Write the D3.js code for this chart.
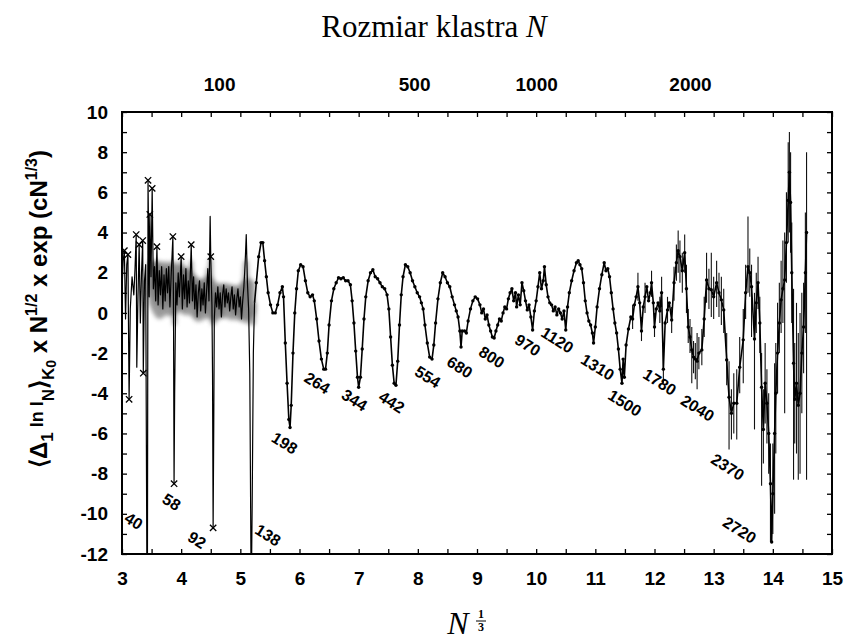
<!DOCTYPE html>
<html><head><meta charset="utf-8">
<script src="https://cdn.jsdelivr.net/npm/d3@7"></script>
<style>body{margin:0;background:#fff}svg{display:block}</style>
</head><body>
<svg id="chart" width="845" height="640"></svg>
<script>
// ---------------- DATA ----------------
// x = N^(1/3), y = <Δ1 lnI_N>_K0 × N^1/2 × exp(cN^1/3)
const smallClusters = [
[3.00,1.2],[3.02,2.6],[3.04,3.1],[3.06,-0.3],[3.08,2.4],[3.10,2.9],[3.12,-4.3],[3.14,0.2],[3.17,1.8],[3.20,0.9],
[3.22,2.2],[3.24,3.9],[3.25,-2.7],[3.27,0.8],[3.29,3.4],[3.31,-0.5],[3.33,2.0],[3.35,3.6],[3.36,-3.0],[3.38,1.6],
[3.40,2.4],[3.42,-12.5],[3.43,-12.5],[3.44,6.6],[3.46,0.8],[3.47,4.9],[3.49,1.8],[3.51,6.2],[3.53,1.2],[3.55,2.3],
[3.57,0.6],[3.59,3.3],[3.61,0.4],[3.63,2.1],[3.65,0.9],[3.67,2.3],[3.69,0.2],[3.71,1.9],[3.73,0.6],[3.75,2.2],
[3.77,1.0],[3.79,2.3],[3.81,0.3],[3.83,1.8],[3.86,3.8],[3.87,0.5],[3.88,-8.5],[3.89,-4.0],[3.91,1.5],[3.93,0.4],
[3.95,2.0],[3.97,0.8],[4.00,2.8],[4.02,0.2],[4.04,1.9],[4.06,0.7],[4.08,2.2],[4.10,0.3],[4.12,1.6],[4.14,0.5],
[4.17,3.4],[4.19,0.6],[4.21,1.8],[4.23,0.2],[4.25,1.4],[4.27,-0.2],[4.29,1.0],[4.31,1.6],[4.33,0.1],[4.35,1.2],
[4.37,0.4],[4.39,1.5],[4.41,0.0],[4.43,1.1],[4.45,2.2],[4.47,0.6],[4.49,4.8],[4.50,2.8],[4.52,0.4],[4.53,-3.0],
[4.54,-10.7],[4.55,-6.0],[4.56,-0.3],[4.58,1.0],[4.60,0.3],[4.62,1.3],[4.64,0.2],[4.66,1.0],[4.68,-0.2],[4.70,0.9],
[4.72,1.4],[4.74,0.3],[4.76,1.2],[4.78,0.5],[4.80,1.0],[4.82,0.1],[4.84,0.8],[4.86,1.3],[4.88,0.2],[4.90,0.9],
[4.92,-0.1],[4.94,0.7],[4.96,1.2],[4.98,0.3],[5.00,0.8],[5.02,-0.3],[5.04,0.6],[5.06,1.3],[5.08,2.4],[5.10,3.9],
[5.12,1.5],[5.14,0.2],[5.16,-3.0],[5.18,-12.5],[5.19,-12.5],[5.20,-9.6],[5.22,-2.0],[5.24,0.5]
];
const midClusters = [
[5.27,1.5],[5.31,2.8],[5.35,3.5],[5.38,3.5],[5.41,2.6],[5.44,1.8],[5.47,1.0],[5.51,0.4],[5.55,0.0],[5.59,0.0],
[5.63,0.4],[5.67,1.0],[5.71,1.3],[5.73,0.8],[5.76,-1.5],[5.79,-3.5],[5.82,-5.3],[5.84,-5.7],[5.86,-4.6],[5.89,-2.0],
[5.92,0.0],[5.95,1.2],[5.98,2.1],[6.02,2.4],[6.06,2.3],[6.10,1.6],[6.14,1.0],[6.18,0.8],[6.22,0.9],[6.25,0.6],
[6.29,-0.3],[6.33,-1.4],[6.37,-2.3],[6.41,-2.8],[6.44,-2.8],[6.47,-2.0],[6.50,-0.6],[6.54,0.6],[6.58,1.2],[6.62,1.5],
[6.66,1.75],[6.70,1.7],[6.74,1.75],[6.78,1.6],[6.82,1.6],[6.86,1.4],[6.89,0.6],[6.92,-0.5],[6.95,-1.9],[6.98,-3.2],
[7.00,-3.7],[7.03,-3.2],[7.06,-1.8],[7.09,-0.3],[7.12,0.8],[7.16,1.6],[7.20,2.0],[7.24,2.15],[7.28,1.8],[7.32,1.7],
[7.36,1.5],[7.40,1.3],[7.44,1.2],[7.48,0.9],[7.51,0.2],[7.54,-1.2],[7.57,-2.6],[7.60,-3.5],[7.63,-3.6],[7.66,-2.4],
[7.69,-0.6],[7.72,0.9],[7.75,1.8],[7.79,2.4],[7.83,2.3],[7.87,2.0],[7.91,1.6],[7.95,1.3],[7.99,1.0],[8.03,0.8],
[8.06,0.5],[8.09,0.2],[8.12,-0.6],[8.16,-1.5],[8.20,-2.2],[8.24,-2.3],[8.27,-1.6],[8.30,-0.5],[8.34,0.7],[8.38,1.5],
[8.42,2.0],[8.46,1.8],[8.50,1.5],[8.54,1.3],[8.58,0.8],[8.62,0.4],[8.65,0.1],[8.68,-0.2],[8.71,-0.9],[8.73,-1.7],
[8.75,-0.9],[8.79,-0.9],[8.82,-1.0],[8.85,-0.4],[8.89,0.2],[8.93,0.6],[8.97,0.8],[9.01,0.7],[9.05,0.4],[9.08,0.0],
[9.11,0.2],[9.14,-0.3],[9.17,-0.1],[9.20,-0.6],[9.23,-0.9],[9.26,-1.2],[9.29,-1.25],[9.32,-0.9],[9.35,-0.6],[9.38,-0.3],
[9.41,-0.4],[9.44,0.0],[9.47,0.3],[9.50,0.2],[9.53,0.7],[9.56,1.0],[9.59,1.2],[9.62,0.6],[9.65,1.0],[9.67,0.3],
[9.70,0.9],[9.73,0.4],[9.76,1.5],[9.79,1.1],[9.82,0.6],[9.85,0.15],[9.88,0.4],[9.91,-0.2],[9.94,-0.85],[9.97,0.1],
[10.00,0.6],[10.03,1.3],[10.06,2.0],[10.09,1.2],[10.12,1.6],[10.14,2.3],[10.17,1.4],[10.20,0.8],[10.23,0.5],[10.26,0.4],
[10.29,0.1],[10.32,0.3],[10.35,-0.1],[10.38,0.2],[10.41,0.0],[10.44,-0.3],[10.47,0.1],[10.50,-0.85],[10.53,0.3],[10.56,1.0],
[10.60,1.6],[10.64,2.1],[10.68,2.5],[10.71,2.6],[10.74,2.4],[10.77,2.2],[10.80,1.5],[10.83,0.6],[10.86,0.0],[10.89,-0.4],
[10.92,-0.6],[10.95,-1.0],[10.97,-1.5],[11.00,-0.7],[11.03,0.3],[11.07,1.2],[11.11,1.9],[11.15,2.5],[11.18,2.1],[11.21,2.2],
[11.24,1.8],[11.27,1.0],[11.30,0.2],[11.33,-0.5],[11.36,-1.0],[11.39,-1.8],[11.42,-2.8],[11.45,-3.5],[11.47,-2.3],[11.49,-3.2],
[11.52,-1.6],[11.56,-0.8]
];
const largeClusters = [
[11.60,-0.2],[11.63,-0.3],[11.66,0.4],[11.69,0.8],[11.72,1.3],[11.75,0.5],[11.78,-0.9],[11.81,0.3],[11.84,0.8],[11.87,1.3],
[11.90,0.6],[11.93,1.0],[11.95,1.5],[11.98,0.5],[12.00,-0.7],[12.03,0.2],[12.06,0.5],[12.09,0.1],[12.12,1.0],[12.15,-2.8],
[12.18,-0.5],[12.22,0.15],[12.25,0.5],[12.29,-0.35],[12.33,1.5],[12.37,2.5],[12.40,3.1],[12.43,2.8],[12.47,2.1],[12.51,3.0],
[12.54,1.2],[12.57,-0.7],[12.60,-1.2],[12.63,-1.84],[12.66,-2.2],[12.69,-2.3],[12.72,-2.4],[12.75,-2.0],[12.80,-1.84],[12.84,-0.3],
[12.88,1.64],[12.92,1.2],[12.96,1.15],[13.00,0.8],[13.05,1.5],[13.09,1.0],[13.13,0.65],[13.17,0.15],[13.22,-2.34],[13.26,-4.2],
[13.30,-5.0],[13.34,-4.5],[13.39,-4.5],[13.44,-2.7],[13.50,-1.34],[13.54,1.0],[13.58,2.3],[13.61,2.0],[13.64,1.3],[13.69,-1.3],
[13.72,0.5],[13.75,1.5],[13.78,-0.5],[13.81,-3.7],[13.84,-5.8],[13.87,-3.5],[13.90,-4.5],[13.93,-6.0],[13.96,-8.5],[13.98,-11.4],
[14.00,-9.0],[14.03,-6.0],[14.05,-4.0],[14.08,-2.0],[14.11,-0.5],[14.14,0.65],[14.17,1.2],[14.20,1.64],[14.23,3.5],[14.26,5.6],
[14.28,7.0],[14.30,5.5],[14.32,2.0],[14.35,-2.5],[14.37,-4.3],[14.40,-3.5],[14.43,-4.6],[14.46,-4.0],[14.49,-2.0],[14.52,-0.7],
[14.55,2.0],[14.57,4.0]
];
// error bars: [x, low, high]
const errorBars = [
[11.63,-0.8,0.4],[11.72,0.6,2.0],[11.78,-1.4,-0.2],[11.84,0.0,1.5],[11.95,0.8,2.1],[12.00,-1.2,0.0],[12.09,-0.5,0.8],
[12.12,0.3,1.8],[12.15,-3.5,-1.5],[12.22,-0.5,0.8],[12.29,-1.0,0.3],[12.33,0.6,2.3],[12.37,1.6,3.4],[12.40,2.0,4.1],
[12.43,1.5,3.6],[12.47,1.0,3.0],[12.51,2.0,3.9],[12.54,0.0,2.4],[12.57,-1.5,0.2],[12.60,-2.0,-0.3],[12.63,-3.5,-0.7],
[12.66,-3.0,-1.4],[12.69,-3.3,-1.5],[12.72,-3.8,-1.0],[12.75,-2.8,-1.2],[12.80,-2.6,-0.8],[12.84,-1.2,0.8],[12.88,0.5,3.0],
[12.92,0.2,2.2],[12.96,-0.2,3.0],[13.00,-0.3,1.8],[13.05,0.3,2.6],[13.09,-0.2,2.0],[13.13,-0.6,1.8],[13.17,-1.0,1.2],
[13.22,-3.6,-1.0],[13.26,-6.8,-2.4],[13.30,-6.3,-3.8],[13.34,-6.0,-3.0],[13.39,-6.3,-2.8],[13.44,-4.0,-1.2],[13.50,-3.5,0.2],
[13.54,-0.3,2.4],[13.58,1.0,4.8],[13.61,0.8,3.2],[13.64,-1.2,2.4],[13.69,-5.8,1.0],[13.72,-1.0,2.0],[13.75,0.2,2.8],
[13.78,-2.0,0.8],[13.81,-8.6,-2.0],[13.84,-7.5,-3.8],[13.87,-5.5,-1.5],[13.90,-6.5,-2.8],[13.93,-8.0,-4.0],[13.96,-11.4,-6.5],
[14.00,-11.0,-6.5],[14.03,-10.0,-2.5],[14.05,-7.0,-1.5],[14.08,-4.0,0.5],[14.11,-2.0,1.5],[14.14,-1.0,2.6],[14.17,-0.5,3.6],
[14.20,-5.0,4.0],[14.23,1.5,6.0],[14.26,3.5,8.5],[14.28,4.0,9.0],[14.30,3.0,8.0],[14.32,-0.5,4.5],[14.35,-8.3,1.2],
[14.37,-6.5,-1.5],[14.40,-7.0,0.5],[14.43,-8.3,-1.0],[14.46,-8.0,0.0],[14.49,-5.0,1.0],[14.52,-3.0,1.5],[14.55,-1.0,5.0],
[14.57,-8.3,8.0]
];
// cross markers on the small-cluster data
const crossMarks = [
[3.04,3.1],[3.10,2.9],[3.12,-4.3],[3.24,3.9],[3.29,3.4],[3.35,3.6],[3.36,-3.0],[3.44,6.6],[3.47,4.9],[3.51,6.2],
[3.59,3.3],[3.86,3.8],[3.88,-8.5],[4.00,2.8],[4.17,3.4],[4.50,2.8],[4.54,-10.7]
];
// grey smeared band of the small clusters: [x, low, high]
const greyBand = [
[3.45,0.5,2.4],[3.55,-0.2,2.6],[3.65,-0.4,2.5],[3.75,0.0,2.6],[3.85,-0.3,2.4],[3.95,0.2,2.5],[4.05,-0.2,2.3],
[4.15,0.0,2.2],[4.25,-0.5,1.8],[4.35,-0.4,1.6],[4.45,-0.2,2.0],[4.55,-0.5,1.6],[4.65,-0.3,1.4],[4.75,-0.2,1.5],
[4.85,-0.4,1.4],[4.95,-0.3,1.3],[5.05,-0.5,1.6],[5.15,-0.5,1.8],[5.25,0.0,1.5]
];
// grey drops: [x, from, to]
const greyDrops = [[3.61,1.0,-0.7],[3.70,1.0,-1.45],[3.81,1.0,-0.85],[3.88,1.0,-4.5],[4.01,1.0,-1.0],[4.10,1.0,-2.34],[4.54,1.0,-2.8],[5.20,1.0,-0.7]];
// magic numbers and label anchors (data coords)
const magicNumbers = [40,58,92,138,198,264,344,442,554,680,800,970,1120,1310,1500,1780,2040,2370,2720];
const labelX = [3.20,3.84,4.27,5.47,5.75,6.30,6.93,7.56,8.17,8.71,9.25,9.86,10.36,11.04,11.50,12.09,12.73,13.24,13.44];
const labelY = [-10.35,-9.4,-11.3,-11.05,-6.47,-3.48,-4.33,-4.43,-3.18,-2.69,-2.19,-1.6,-1.34,-2.69,-4.48,-3.43,-4.73,-7.66,-10.8];
const topN = [100,500,1000,2000];
const xDomain = [3,15], yDomain = [-12,10];

// ---------------- DRAW ----------------
const svg = d3.select('#chart');
const x = d3.scaleLinear().domain(xDomain).range([122,832]);
const y = d3.scaleLinear().domain(yDomain).range([554,112]);
const SANS = "'Liberation Sans', Arial, Helvetica, sans-serif";
const SERIF = "'Liberation Serif', 'Times New Roman', serif";

const defs = svg.append('defs');
defs.append('clipPath').attr('id','plot').append('rect')
  .attr('x',x(3)).attr('y',y(10)).attr('width',x(15)-x(3)).attr('height',y(-12)-y(10));
defs.append('filter').attr('id','blur').attr('x','-20%').attr('y','-20%').attr('width','140%').attr('height','140%')
  .append('feGaussianBlur').attr('stdDeviation',2.2);
defs.append('filter').attr('id','blur2')
  .append('feGaussianBlur').attr('stdDeviation',0.8);

const plot = svg.append('g').attr('clip-path','url(#plot)');

// grey band
plot.append('path').datum(greyBand)
  .attr('d', d3.area().x(d=>x(d[0])).y0(d=>y(d[1])).y1(d=>y(d[2])).curve(d3.curveBasis))
  .attr('fill','#5a5a5a').attr('opacity',0.6).attr('filter','url(#blur)');
plot.append('path').datum(smallClusters.filter(d=>d[0]>3.45))
  .attr('d', d3.line().x(d=>x(d[0])).y(d=>y(Math.max(-0.5,Math.min(2.6,d[1])))))
  .attr('fill','none').attr('stroke','#555').attr('stroke-width',4).attr('opacity',0.5).attr('filter','url(#blur)');
plot.selectAll('line.gdrop').data(greyDrops).join('line').attr('class','gdrop')
  .attr('x1',d=>x(d[0])).attr('x2',d=>x(d[0])).attr('y1',d=>y(d[1])).attr('y2',d=>y(d[2]))
  .attr('stroke','#8a8a8a').attr('stroke-width',3).attr('filter','url(#blur2)');

// error bars
plot.selectAll('line.err').data(errorBars).join('line').attr('class','err')
  .attr('x1',d=>x(d[0])).attr('x2',d=>x(d[0])).attr('y1',d=>y(d[1])).attr('y2',d=>y(d[2]))
  .attr('stroke','#111').attr('stroke-width',1.1);

// main line
const line = d3.line().x(d=>x(d[0])).y(d=>y(d[1]));
plot.append('path').datum(smallClusters)
  .attr('d', line)
  .attr('fill','none').attr('stroke','#000').attr('stroke-width',1.2).attr('stroke-linejoin','round');
plot.append('path').datum([smallClusters[smallClusters.length-1]].concat(midClusters, largeClusters))
  .attr('d', line)
  .attr('fill','none').attr('stroke','#000').attr('stroke-width',1.6).attr('stroke-linejoin','round');

// dots
plot.selectAll('circle.pt').data(midClusters.concat(largeClusters)).join('circle').attr('class','pt')
  .attr('cx',d=>x(d[0])).attr('cy',d=>y(d[1])).attr('r',1.7).attr('fill','#000');

// crosses
plot.selectAll('path.cross').data(crossMarks).join('path').attr('class','cross')
  .attr('transform',d=>`translate(${x(d[0])},${y(d[1])})`)
  .attr('d', d3.symbol().type(d3.symbolTimes).size(28)())
  .attr('fill','none').attr('stroke','#000').attr('stroke-width',1.3);

// magic number labels
svg.selectAll('text.magic').data(magicNumbers).join('text').attr('class','magic')
  .attr('transform',(d,i)=>`translate(${x(labelX[i])},${y(labelY[i])}) rotate(32)`)
  .attr('text-anchor','middle').attr('dy','0.36em')
  .attr('font-family',SANS).attr('font-weight','bold').attr('font-size',16)
  .text(d=>d);

// axes
function styleAxis(g){
  g.select('.domain').remove();
  g.selectAll('line').attr('stroke','#000').attr('stroke-width',1.3);
  g.selectAll('text').attr('font-family',SANS).attr('font-weight','bold').attr('font-size',19).attr('fill','#000');
}
svg.append('g').attr('transform',`translate(0,${y(-12)})`)
  .call(d3.axisBottom(x).tickValues(d3.range(3,15.01,0.5)).tickSize(-5).tickPadding(18)
    .tickFormat(d=>Number.isInteger(d)?d:''))
  .call(styleAxis);
svg.append('g').attr('transform',`translate(0,${y(10)})`)
  .call(d3.axisTop(x).tickValues(d3.range(3,15.01,0.5)).tickSize(-5).tickFormat(''))
  .call(styleAxis);
svg.append('g').attr('transform',`translate(0,${y(10)})`)
  .call(d3.axisTop(x).tickValues(topN.map(Math.cbrt)).tickSize(0).tickPadding(21)
    .tickFormat((d,i)=>topN[i]))
  .call(styleAxis);
svg.append('g').attr('transform',`translate(${x(3)},0)`)
  .call(d3.axisLeft(y).tickValues(d3.range(-12,10.01,1)).tickSize(-5).tickPadding(14)
    .tickFormat(d=>d%2===0?d:''))
  .call(styleAxis);
svg.append('g').attr('transform',`translate(${x(15)},0)`)
  .call(d3.axisRight(y).tickValues(d3.range(-12,10.01,1)).tickSize(-5).tickFormat(''))
  .call(styleAxis);

// frame
svg.append('rect').attr('x',x(3)).attr('y',y(10)).attr('width',x(15)-x(3)).attr('height',y(-12)-y(10))
  .attr('fill','none').attr('stroke','#000').attr('stroke-width',2);

// title
const t = svg.append('text').attr('x',434).attr('y',37).attr('text-anchor','middle')
  .attr('font-family',SERIF).attr('font-size',31).attr('fill','#000');
t.append('tspan').text('Rozmiar klastra  ');
t.append('tspan').attr('font-style','italic').text('N');

// x label N^(1/3)
svg.append('text').attr('x',458).attr('y',634).attr('text-anchor','middle')
  .attr('font-family',SERIF).attr('font-style','italic').attr('font-size',32).text('N');
svg.append('text').attr('x',481).attr('y',618).attr('text-anchor','middle')
  .attr('font-family',SERIF).attr('font-weight','bold').attr('font-size',12).text('1');
svg.append('line').attr('x1',476).attr('x2',486).attr('y1',621).attr('y2',621).attr('stroke','#000').attr('stroke-width',1);
svg.append('text').attr('x',481).attr('y',631).attr('text-anchor','middle')
  .attr('font-family',SERIF).attr('font-weight','bold').attr('font-size',12).text('3');

// y label
const yl = svg.append('text').attr('transform','translate(47,309) rotate(-90)').attr('text-anchor','middle')
  .attr('font-family',SANS).attr('font-weight','bold').attr('font-size',24).attr('fill','#000');
let cur = 0;
function seg(txt, size, off){ yl.append('tspan').attr('font-size',size).attr('dy',off-cur).text(txt); cur=off; }
seg('\u27E8\u0394',24,0);
seg('1',17,6);
seg(' ln I',18,-4);
seg('N',17,7);
seg('\u27E9',24,0);
seg('K',17,7);
seg('0',14,9);
seg(' x N',24,0);
seg('1/2',16,-10);
seg(' x exp',24,0);
seg(' (cN',24,0);
seg('1/3',16,-10);
seg(')',24,0);
</script>
</body></html>
